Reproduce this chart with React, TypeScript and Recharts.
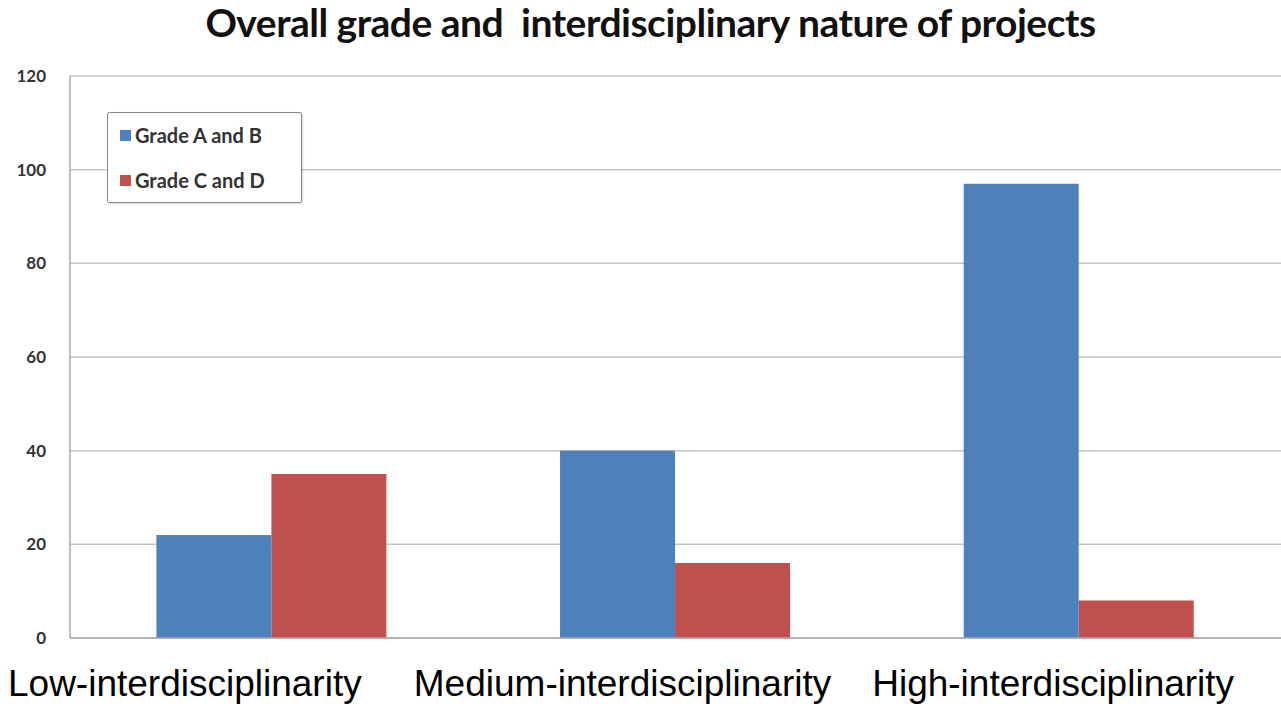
import { BarChart, Bar, XAxis, YAxis, CartesianGrid } from "recharts";

const categories = ["Low-interdisciplinarity", "Medium-interdisciplinarity", "High-interdisciplinarity"];
const gradeAB = [22, 40, 97];
const gradeCD = [35, 16, 8];
const yTicks = [0, 20, 40, 60, 80, 100, 120];

const data = categories.map((name, i) => ({ name, ab: gradeAB[i], cd: gradeCD[i] }));

const BLUE = "#4f81bd";
const RED = "#c0504d";
// the picture's category labels sit a bit left of the band centres
const LABEL_SHIFT = [-87, -53, -26];

function XTick({ x, y, payload, index }: any) {
  return (
    <text
      x={x + (LABEL_SHIFT[index] ?? 0)}
      y={y + 50}
      textAnchor="middle"
      fontFamily="'Liberation Sans', Arial, sans-serif"
      fontSize={37}
      fill="#000"
    >
      {payload.value}
    </text>
  );
}

function YTick({ y, payload }: any) {
  return (
    <text
      x={46}
      y={y + 6}
      textAnchor="end"
      fontFamily="Lato, 'Open Sans', sans-serif"
      fontWeight={700}
      fontSize={17}
      fill="#333"
    >
      {payload.value}
    </text>
  );
}

function LegendBox() {
  const items = [
    { label: "Grade A and B", color: BLUE },
    { label: "Grade C and D", color: RED },
  ];
  return (
    <div
      style={{
        position: "absolute",
        left: 107,
        top: 112,
        width: 195,
        height: 91,
        border: "1.5px solid #8a8a8a",
        borderRadius: 2,
        background: "#fff",
        boxShadow: "1px 1px 2px rgba(0,0,0,0.15)",
        boxSizing: "border-box",
        padding: "10px 0 0 12px",
        fontFamily: "Lato, 'Open Sans', sans-serif",
        fontWeight: 700,
        fontSize: 20,
        color: "#333",
      }}
    >
      {items.map((it) => (
        <div key={it.label} style={{ display: "flex", alignItems: "center", height: 24, marginBottom: 21 }}>
          <span style={{ width: 11, height: 11, background: it.color, marginRight: 4, display: "inline-block" }} />
          {it.label}
        </div>
      ))}
    </div>
  );
}

export default function App() {
  return (
    <div style={{ position: "absolute", left: 0, top: 0, width: 1281, height: 706, background: "#fff" }}>
      <BarChart
        width={1281}
        height={706}
        data={data}
        margin={{ top: 76, right: 0, bottom: 8, left: 0 }}
        barCategoryGap="21.4%"
        barGap={0}
        style={{ position: "absolute", left: 0, top: 0 }}
      >
        <CartesianGrid vertical={false} stroke="#c4c4c4" strokeWidth={1.5} />
        <XAxis
          dataKey="name"
          height={60}
          tick={<XTick />}
          tickLine={false}
          axisLine={{ stroke: "#a8a8a8", strokeWidth: 1.5 }}
          interval={0}
        />
        <YAxis
          width={70}
          domain={[0, 120]}
          ticks={yTicks}
          tick={<YTick />}
          tickLine={false}
          axisLine={{ stroke: "#a8a8a8", strokeWidth: 1.5 }}
        />
        <Bar dataKey="ab" name="Grade A and B" fill={BLUE} isAnimationActive={false} />
        <Bar dataKey="cd" name="Grade C and D" fill={RED} isAnimationActive={false} />
      </BarChart>
      <div
        style={{
          position: "absolute",
          left: 10,
          width: 1281,
          top: -1,
          textAlign: "center",
          fontFamily: "Lato, 'Open Sans', sans-serif",
          fontWeight: 700,
          fontSize: 39,
          color: "#111",
          letterSpacing: -0.5,
        }}
      >
        Overall grade and&nbsp; interdisciplinary nature of projects
      </div>
      <LegendBox />
    </div>
  );
}
